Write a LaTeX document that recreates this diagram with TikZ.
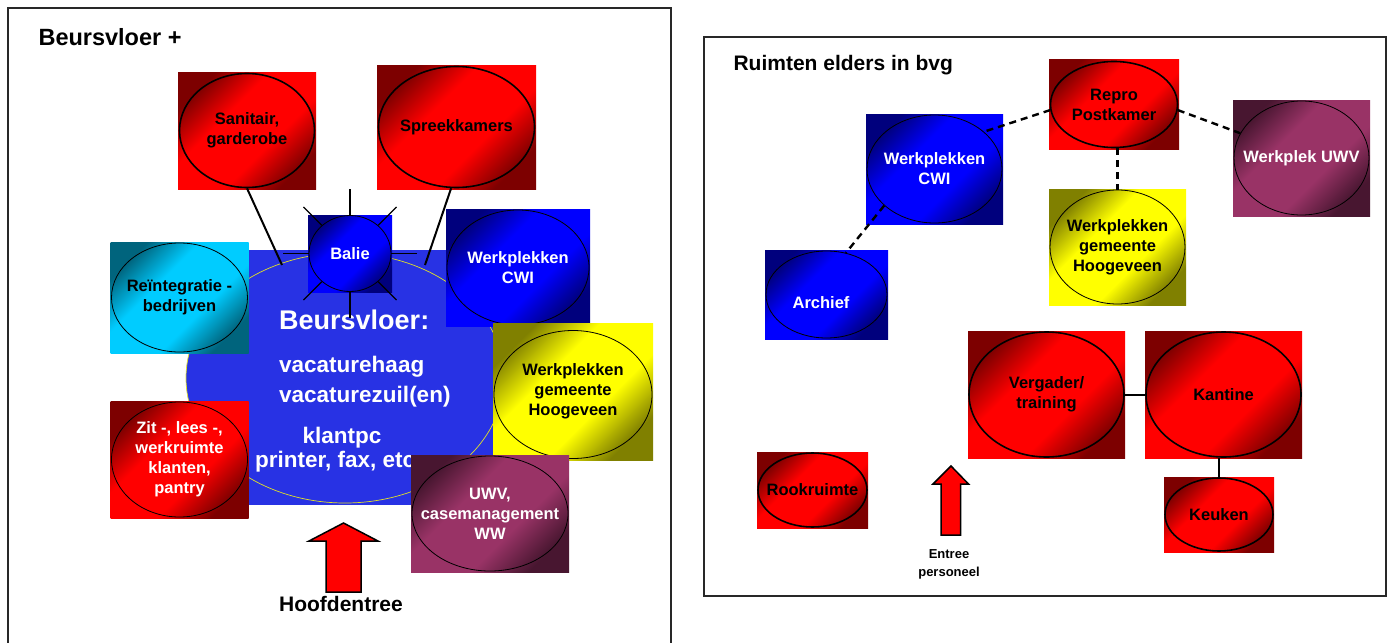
\documentclass[tikz,border=0pt]{standalone}
\usepackage{fontspec}
\setmainfont{Liberation Sans}
\usetikzlibrary{shapes.geometric}

\definecolor{redD}{RGB}{125,0,0}
\definecolor{redL}{RGB}{255,0,0}
\definecolor{blueD}{RGB}{0,0,125}
\definecolor{blueL}{RGB}{0,0,255}
\definecolor{cyanD}{RGB}{0,100,125}
\definecolor{cyanL}{RGB}{0,204,255}
\definecolor{yelD}{RGB}{128,128,0}
\definecolor{yelL}{RGB}{255,255,0}
\definecolor{purD}{RGB}{72,22,48}
\definecolor{purL}{RGB}{153,51,102}
\definecolor{vloerblauw}{RGB}{40,50,228}
\definecolor{randgeel}{RGB}{225,225,40}
\definecolor{kader}{RGB}{40,40,40}
\colorlet{kamerD}{redD}
\colorlet{kamerL}{redL}

\pgfdeclareverticalshading[kamerD,kamerL]{kamerschaduw}{100bp}{color(0bp)=(kamerD); color(25bp)=(kamerD); color(40bp)=(kamerL); color(60bp)=(kamerL); color(75bp)=(kamerD); color(100bp)=(kamerD)}

\newcommand\kamerfont{\fontsize{16.5}{20}\selectfont\bfseries}
\newcommand\titelfont{\fontsize{21}{25}\selectfont\bfseries}
\newcommand\vloerfont{\fontsize{22.5}{27}\selectfont\bfseries}

\tikzset{
  maat/.style 2 args={minimum width=#1pt, minimum height=#2pt},
  kamer/.style 2 args={rectangle, inner sep=0pt, align=center, font=\kamerfont,
    /utils/exec={\colorlet{kamerD}{#1}\colorlet{kamerL}{#2}},
    shade, shading=kamerschaduw, shading angle=45},
  rood/.style={kamer={redD}{redL}},
  roodwit/.style={kamer={redD}{redL}, text=white},
  blauw/.style={kamer={blueD}{blueL}, text=white},
  cyaan/.style={kamer={cyanD}{cyanL}},
  geel/.style={kamer={yelD}{yelL}},
  paars/.style={kamer={purD}{purL}, text=white},
  oval/.style={ellipse, draw, inner sep=0pt, line width=0.8pt},
  dikoval/.style={oval, line width=1.6pt},
  lijn/.style={line width=2pt},
  stippellijn/.style={line width=2.4pt, dash pattern=on 7pt off 5pt},
  straal/.style={line width=1.2pt},
  ingang/.style={draw, line width=1.5pt, fill=redL, line join=miter},
  kader/.style={draw=kader, line width=1.5pt},
  titel/.style={font=\titelfont, anchor=west},
  vloertekst/.style={text=white, anchor=base west, font=\vloerfont, inner sep=0pt}
}

\begin{document}
\begin{tikzpicture}[x=1pt, y=-1pt]
\useasboundingbox (0,0) rectangle (1388,642);

% kaders en titels
\draw[kader] (8,660) |- (671,8) -- (671,660);
\draw[kader] (704,37) rectangle (1386,596);
\node[titel, font=\fontsize{23.5}{27}\selectfont\bfseries] (titel1) at (35,37) {Beursvloer +};
\node[titel] (titel2) at (730,65) {Ruimten elders in bvg};

% beursvloer
\node[fill=vloerblauw, inner sep=0pt, maat={244}{255}] (vloer) at (371,377.5) {};
\node[ellipse, fill=vloerblauw, draw=randgeel, line width=0.7pt, inner sep=0pt, maat={318}{250}] (vloerrand) at (345,378) {};
\node[vloertekst, font=\fontsize{27}{30}\selectfont\bfseries] (kop) at (279,329) {Beursvloer:};
\node[vloertekst] (haag) at (279,372) {vacaturehaag};
\node[vloertekst] (zuil) at (279,402) {vacaturezuil(en)};
\node[vloertekst, anchor=base] (pc) at (342,443) {klantpc};
\node[vloertekst] (printer) at (255,467) {printer, fax, etc.};

% ruimten boven
\node[rood, maat={138}{117}] (sanbox) at (247,130.5) {Sanitair,\\garderobe};
\node[dikoval, maat={135}{114}] (san) at (sanbox) {};
\node[rood, maat={159}{124}] (sprbox) at (456.5,127) {Spreekkamers};
\node[dikoval, maat={156}{121}] (spr) at (sprbox) {};
\coordinate (sanvoet) at (282,265);
\coordinate (sprvoet) at (425,265);
\draw[lijn] (san.south) -- (sanvoet);
\draw[lijn] (spr.265) -- (sprvoet);

% balie
\node[blauw, maat={84}{77}] (baliebox) at (350,253.5) {Balie};
\node[oval, maat={82}{76}] (balie) at (baliebox) {};
\foreach \a in {0,45,...,315}
  \draw[straal] (balie.\a) -- ++({26*cos(\a)},{-26*sin(\a)});

% ruimten rond de vloer
\node[cyaan, maat={138}{111}] (reintbox) at (179.5,297.5) {Re\"integratie -\\bedrijven};
\node[oval, maat={136}{109}] (reint) at (reintbox) {};
\node[blauw, maat={144}{117}] (cwibox) at (518,267.5) {Werkplekken\\CWI};
\node[oval, maat={142}{115}] (cwi) at (cwibox) {};
\node[geel, maat={160}{137}] (gembox) at (573,391.5) {Werkplekken\\gemeente\\Hoogeveen};
\node[oval, maat={158}{128}] (gem) at ([yshift=-3pt]gembox.center) {};
\node[roodwit, maat={138}{117}] (zitbox) at (179.5,459.5) {Zit -, lees -,\\werkruimte\\klanten,\\pantry};
\node[oval, maat={136}{115}] (zit) at (zitbox) {};
\node[paars, maat={158}{117}] (uwvbox) at (490,513.5) {UWV,\\casemanagement\\WW};
\node[oval, maat={156}{115}] (uwv) at (uwvbox) {};

% hoofdingang
\draw[ingang] (326,592) -- (326,541) -- (309,541) -- (343.5,523) -- (378,541) -- (361,541) -- (361,592) -- cycle;
\node[font=\titelfont] (hoofd) at (341,604) {Hoofdentree};

% ruimten elders
\node[rood, maat={130}{89}] (reprobox) at (1114,104.5) {Repro\\Postkamer};
\node[dikoval, maat={127}{86}] (repro) at (reprobox) {};
\node[blauw, maat={137}{110}] (cwi2box) at (934.5,169) {Werkplekken\\CWI};
\node[oval, maat={135}{108}] (cwi2) at (cwi2box) {};
\node[paars, maat={137}{116}] (uwv2box) at (1301.5,158) {Werkplek UWV};
\node[oval, maat={135}{114}] (uwv2) at (uwv2box) {};
\node[geel, maat={137}{116}] (gem2box) at (1117.5,247) {Werkplekken\\gemeente\\Hoogeveen};
\node[oval, maat={135}{114}] (gem2) at (gem2box) {};
\node[blauw, maat={123}{89}] (archbox) at (826.5,294.5) {};
\node[oval, maat={121}{87}] (arch) at (archbox) {};
\node[font=\kamerfont, text=white] (archtekst) at (821,303) {Archief};
\draw[stippellijn] (repro.185) -- (cwi2.37);
\draw[stippellijn] (repro.-5) -- (uwv2.158);
\draw[stippellijn] (gem2.north |- repro.south) -- (gem2.north);
\draw[stippellijn] (cwi2.216) -- (arch.65);

\node[rood, maat={157}{127}] (vergbox) at (1046.5,394.5) {Vergader/\\training};
\node[dikoval, maat={155}{125}] (verg) at (vergbox) {};
\node[rood, maat={157}{127}] (kantbox) at (1223.5,394.5) {Kantine};
\node[dikoval, maat={155}{125}] (kant) at (kantbox) {};
\node[rood, maat={110}{75}] (keukbox) at (1219,514.5) {Keuken};
\node[dikoval, maat={108}{73}] (keuk) at (keukbox) {};
\node[rood, maat={111}{76}] (rookbox) at (812.5,490) {Rookruimte};
\node[dikoval, maat={109}{74}] (rook) at (rookbox) {};
\draw[lijn] (verg.east) -- (kant.west);
\draw[lijn] (keuk.north |- kant.south) -- (keuk.north);

% personeelsingang
\draw[ingang] (941,535) -- (941,484) -- (933,484) -- (951,466) -- (968.5,484) -- (960.5,484) -- (960.5,535) -- cycle;
\node[align=center, font=\fontsize{13}{18}\selectfont\bfseries] (entree) at (949,564) {Entree\\personeel};
\end{tikzpicture}
\end{document}
